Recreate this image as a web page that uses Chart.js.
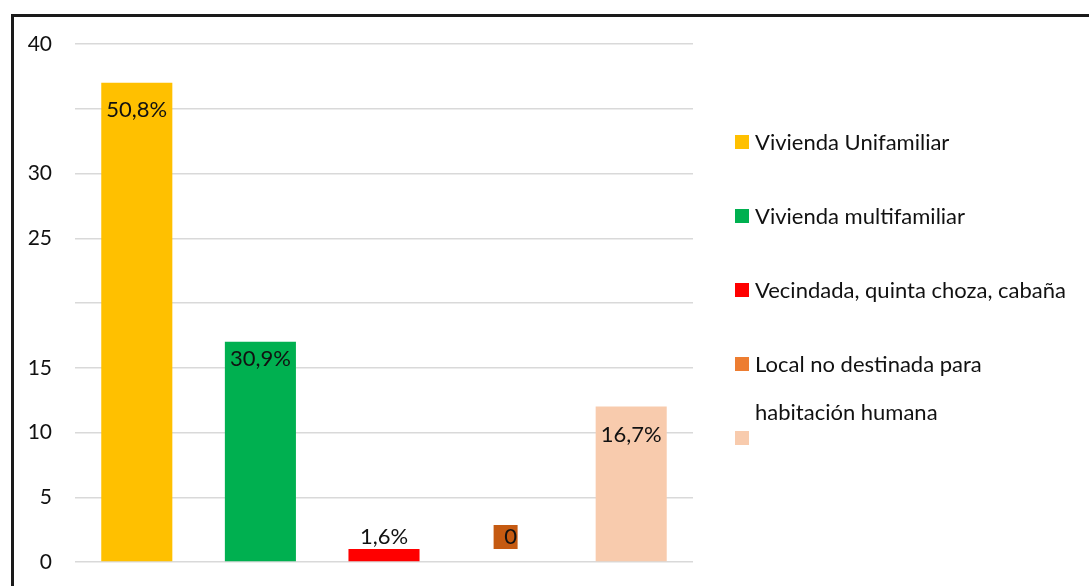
<!DOCTYPE html>
<html lang="es">
<head>
  <meta charset="UTF-8">
  <script src="https://cdn.jsdelivr.net/npm/chart.js"></script>
  <style>
    html, body { margin: 0; padding: 0; background: #fff; overflow: hidden; }
    .lienzo { position: relative; width: 1089px; height: 586px; }
    .marco {
      position: absolute; left: 11px; top: 14px; width: 1200px; height: 700px;
      border: 3px solid #1a1a1a; box-sizing: border-box;
    }
    #grafico { position: absolute; left: 0; top: 0; }
    .leyenda { position: absolute; left: 735px; top: 0; font-family: Lato, sans-serif; font-size: 22px; color: #111; }
    .item { position: absolute; left: 0; white-space: nowrap; line-height: 48px; }
    .caja { position: absolute; left: 0; top: 17px; width: 14px; height: 14px; }
    .texto { position: absolute; left: 20px; top: 0; }
  </style>
  <title>Tipo de vivienda</title>
</head>
<body>
  <div class="lienzo">
    <div class="marco"></div>
    <canvas id="grafico" width="1089" height="586"></canvas>
    <div class="leyenda" id="leyenda"></div>
  </div>

<script>
  // datos
  const categorias = ['Vivienda Unifamiliar', 'Vivienda multifamiliar', 'Vecindada, quinta choza, cabaña', 'Local no destinada para habitación humana', 'Otro'];
  const valores = [37, 17, 1, 0, 12];
  const etiquetas = ['50,8%', '30,9%', '1,6%', '0', '16,7%'];
  const colores = ['#FFC000', '#00B050', '#FF0000', '#C55A11', '#F8CBAD'];
  const coloresLeyenda = ['#FFC000', '#00B050', '#FF0000', '#ED7D31', '#F8CBAD'];
  const textosLeyenda = ['Vivienda Unifamiliar', 'Vivienda multifamiliar', 'Vecindada, quinta choza, cabaña', 'Local no destinada para<br>habitación humana', ''];
  const ticksVisibles = [0, 5, 10, 15, 25, 30, 40];

  const fuente = 'Lato, sans-serif';

  // etiquetas de datos, como en el original (dentro arriba o encima)
  const pluginEtiquetas = {
    id: 'etiquetas',
    afterDatasetsDraw(chart, args, opts) {
      const ctx = chart.ctx;
      const meta = chart.getDatasetMeta(0);
      ctx.save();
      ctx.font = '22px ' + fuente;
      ctx.fillStyle = '#111';
      ctx.textBaseline = 'middle';
      meta.data.forEach((barra, i) => {
        const v = valores[i];
        const x = barra.x;
        const y = barra.y;
        if (v >= 5) {
          ctx.textAlign = 'center';
          ctx.fillText(etiquetas[i], x, y + opts.dentro[i]);
        } else if (v > 0) {
          ctx.textAlign = 'center';
          ctx.fillText(etiquetas[i], x, y - 12);
        } else {
          ctx.fillStyle = colores[i];
          ctx.fillRect(x - 14, y - 37, 24, 24);
          ctx.fillStyle = '#111';
          ctx.textAlign = 'center';
          ctx.fillText(etiquetas[i], x + 3, y - 25);
        }
      });
      ctx.restore();
    }
  };

  const ctx = document.getElementById('grafico').getContext('2d');

  const grafico = new Chart(ctx, {
    type: 'bar',
    data: {
      labels: categorias,
      datasets: [{
        data: valores,
        backgroundColor: colores,
        borderWidth: 0,
        barPercentage: 0.575,
        categoryPercentage: 1
      }]
    },
    plugins: [pluginEtiquetas],
    options: {
      responsive: false,
      animation: false,
      layout: { padding: { top: 44, right: 396, bottom: 24, left: 0 } },
      plugins: {
        legend: { display: false },
        tooltip: { enabled: false },
        etiquetas: { dentro: [27, 17, 0, 0, 28] }
      },
      scales: {
        x: { display: false },
        y: {
          min: 0,
          max: 40,
          afterFit(scale) {
            scale.width = 75;
            scale.paddingTop = 0;
            scale.paddingBottom = 0;
          },
          border: { display: false },
          grid: { color: '#d9d9d9', lineWidth: 1.5, drawTicks: false },
          ticks: {
            stepSize: 5,
            padding: 23,
            color: '#111',
            font: { family: fuente, size: 21 },
            callback: (v) => ticksVisibles.includes(v) ? v : ''
          }
        }
      }
    }
  });

  // leyenda a la derecha
  const leyenda = document.getElementById('leyenda');
  textosLeyenda.forEach((t, i) => {
    const item = document.createElement('div');
    item.className = 'item';
    item.style.top = (142 + i * 74 - 24) + 'px';
    item.innerHTML = '<span class="caja" style="background:' + coloresLeyenda[i] + '"></span><span class="texto">' + t + '</span>';
    leyenda.appendChild(item);
  });
</script>
</body>
</html>
